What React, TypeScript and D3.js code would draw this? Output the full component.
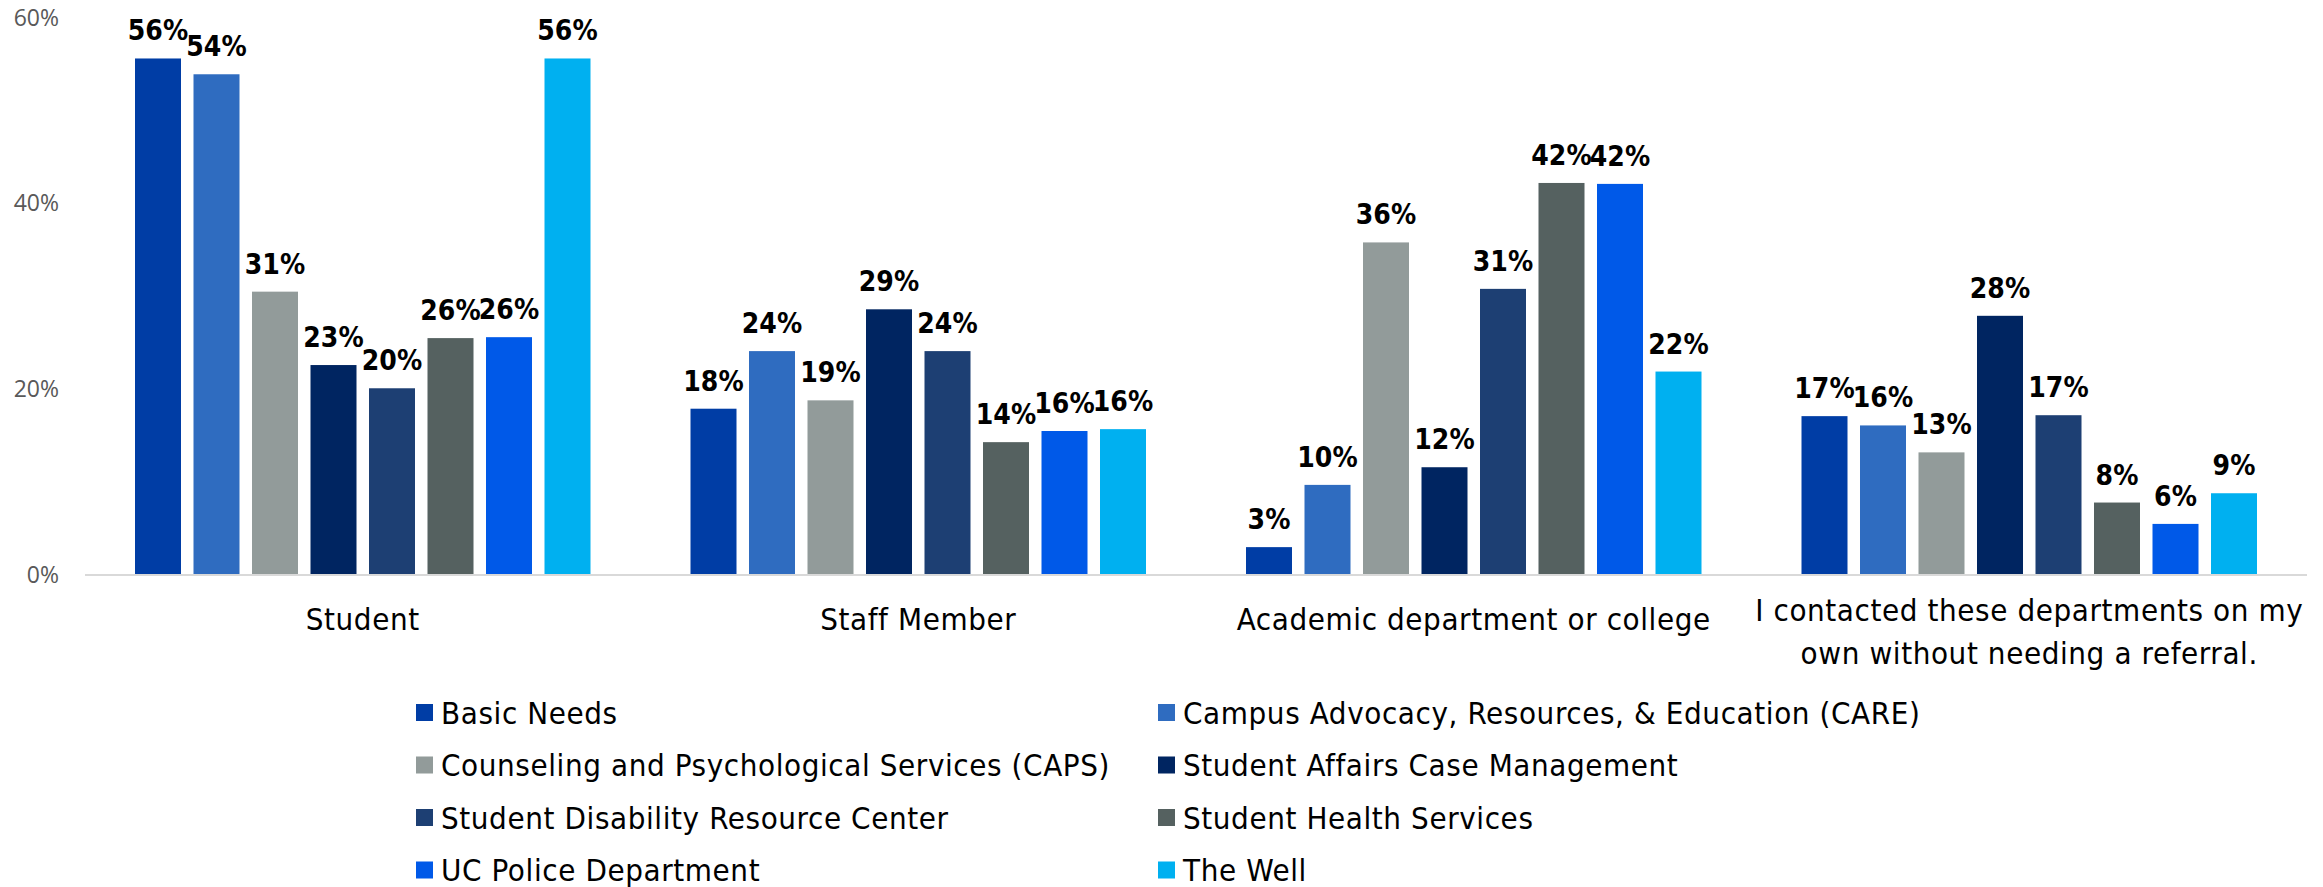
import React, { useEffect } from 'react';
import { scaleBand, scaleLinear } from 'd3';

const categories = [
  'Student',
  'Staff Member',
  'Academic department or college',
  'I contacted these departments on my own without needing a referral.'
];
const categoryLines = [
  ['Student'],
  ['Staff Member'],
  ['Academic department or college'],
  ['I contacted these departments on my', 'own without needing a referral.']
];

const seriesNames = [
  'Basic Needs',
  'Campus Advocacy, Resources, & Education (CARE)',
  'Counseling and Psychological Services (CAPS)',
  'Student Affairs Case Management',
  'Student Disability Resource Center',
  'Student Health Services',
  'UC Police Department',
  'The Well'
];
const seriesColors = [
  '#003DA5',
  '#2F6CC0',
  '#929B9A',
  '#002561',
  '#1D3F73',
  '#556160',
  '#0059E8',
  '#00B0F0'
];

// one array per series, values by category (fractions)
const basicNeeds = [0.556, 0.179, 0.03, 0.171];
const care = [0.539, 0.241, 0.097, 0.161];
const caps = [0.305, 0.188, 0.358, 0.132];
const caseMgmt = [0.226, 0.286, 0.116, 0.279];
const sdrc = [0.201, 0.241, 0.308, 0.172];
const shs = [0.255, 0.143, 0.422, 0.078];
const ucpd = [0.256, 0.155, 0.421, 0.055];
const theWell = [0.556, 0.157, 0.219, 0.088];
const seriesValues = [basicNeeds, care, caps, caseMgmt, sdrc, shs, ucpd, theWell];

const yTicks = [0, 0.2, 0.4, 0.6];

const W = 2323;
const H = 887;
const FONT = "'DejaVu Sans Condensed', 'DejaVu Sans', sans-serif";

export default function App() {
  useEffect(() => {
    document.body.style.margin = '0';
  }, []);

  const x0 = scaleBand().domain(categories).range([85, 2307]).padding(0);
  const x1 = scaleBand()
    .domain(seriesNames)
    .range([0, x0.bandwidth()])
    .paddingInner(0.2137)
    .paddingOuter(0.8547);
  const y = scaleLinear().domain([0, 0.6]).range([575, 17.6]);

  const legendCols = [416, 1158];
  const legendRowTop = 704;
  const legendRowStep = 52.5;

  return (
    <svg width={W} height={H} style={{ display: 'block', background: '#fff' }}>
      {/* y axis labels */}
      {yTicks.map(t => (
        <text
          key={t}
          x={59}
          y={y(t)}
          dy="0.35em"
          textAnchor="end"
          fontFamily="'Open Sans', sans-serif"
          fontSize={23}
          fill="#595959"
        >
          {Math.round(t * 100)}%
        </text>
      ))}

      {/* bars */}
      {categories.map((c, ci) => (
        <g key={c} transform={`translate(${x0(c)},0)`}>
          {seriesNames.map((s, si) => {
            const v = seriesValues[si][ci];
            const bx = x1(s) as number;
            return (
              <g key={s}>
                <rect
                  x={bx}
                  y={y(v)}
                  width={x1.bandwidth()}
                  height={y(0) - y(v)}
                  fill={seriesColors[si]}
                />
                <text
                  x={bx + x1.bandwidth() / 2}
                  y={y(v) - 18}
                  textAnchor="middle"
                  fontFamily={FONT}
                  fontWeight="bold"
                  fontSize={28}
                  fill="#000"
                >
                  {Math.round(v * 100)}%
                </text>
              </g>
            );
          })}
        </g>
      ))}

      {/* x axis line */}
      <line x1={85} x2={2307} y1={y(0)} y2={y(0)} stroke="#D9D9D9" strokeWidth={2} />

      {/* category labels */}
      {categories.map((c, ci) => {
        const cx = (x0(c) as number) + x0.bandwidth() / 2;
        const lines = categoryLines[ci];
        return (
          <text
            key={c}
            x={cx}
            y={lines.length > 1 ? 621 : 630}
            textAnchor="middle"
            fontFamily={FONT}
            fontSize={31}
            letterSpacing={0.6}
            fill="#000"
          >
            {lines.map((ln, li) => (
              <tspan key={li} x={cx} dy={li === 0 ? 0 : 43}>
                {ln}
              </tspan>
            ))}
          </text>
        );
      })}

      {/* legend */}
      {seriesNames.map((s, si) => {
        const lx = legendCols[si % 2];
        const ly = legendRowTop + Math.floor(si / 2) * legendRowStep;
        return (
          <g key={s}>
            <rect x={lx} y={ly} width={17} height={17} fill={seriesColors[si]} />
            <text
              x={lx + 25}
              y={ly + 19.5}
              fontFamily={FONT}
              fontSize={31}
              letterSpacing={0.6}
              fill="#000"
            >
              {s}
            </text>
          </g>
        );
      })}
    </svg>
  );
}
